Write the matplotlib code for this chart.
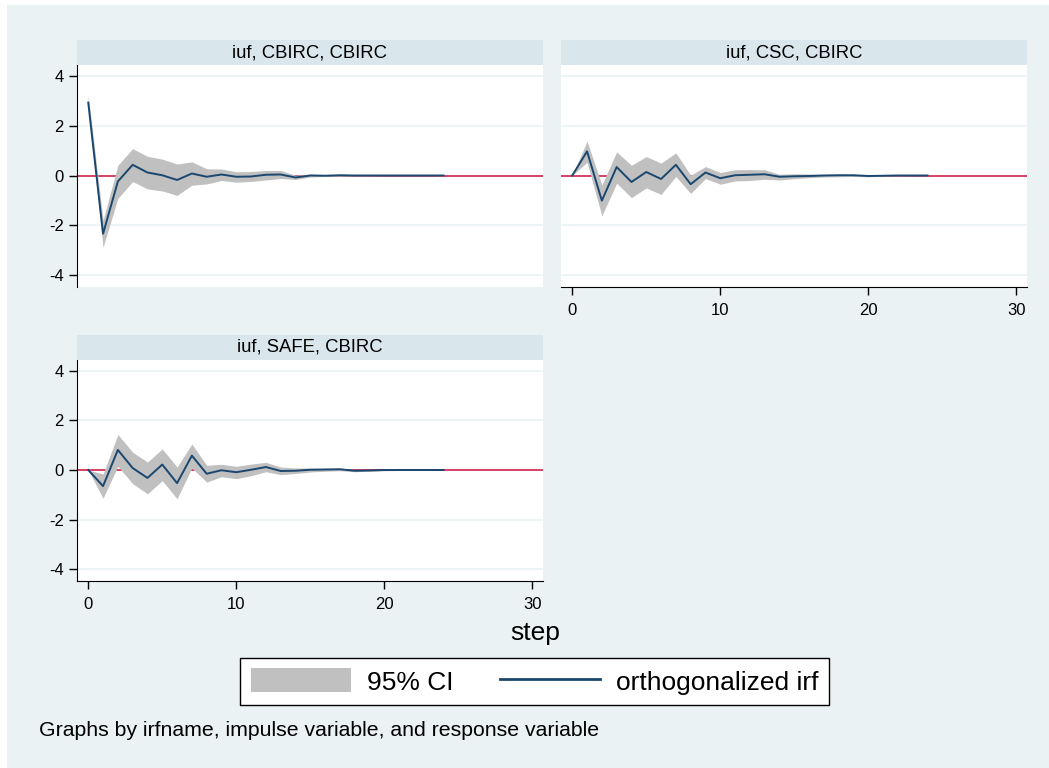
import matplotlib
matplotlib.use("Agg")
import matplotlib.pyplot as plt
from matplotlib.patches import Patch
from matplotlib.lines import Line2D

plt.rcParams['font.family'] = ['Liberation Sans', 'DejaVu Sans']
plt.rcParams['axes.unicode_minus'] = False

# data (orthogonalized irf with 95% CI)
steps = list(range(25))

cbirc_irf = [2.93, -2.34, -0.24, 0.43, 0.12, 0.01, -0.18, 0.08, -0.05, 0.04, -0.05, -0.04, 0.03,
             0.04, -0.08, 0.0, -0.01, 0.01, 0.0, 0.0, 0.0, 0.0, 0.0, 0.0, 0.0]
cbirc_lo = [2.65, -2.88, -0.92, -0.24, -0.54, -0.62, -0.80, -0.39, -0.34, -0.20, -0.27, -0.24, -0.18,
            -0.12, -0.16, -0.06, -0.04, -0.03, -0.02, -0.02, -0.01, -0.01, -0.01, -0.01, -0.01]
cbirc_hi = [3.23, -1.80, 0.41, 1.08, 0.77, 0.66, 0.46, 0.55, 0.27, 0.26, 0.15, 0.16, 0.20,
            0.20, 0.01, 0.06, 0.04, 0.04, 0.02, 0.02, 0.01, 0.01, 0.01, 0.01, 0.01]

csc_irf = [0.0, 0.97, -1.01, 0.34, -0.26, 0.14, -0.14, 0.43, -0.35, 0.12, -0.11, 0.01, 0.03,
           0.05, -0.05, -0.03, -0.02, 0.0, 0.01, 0.01, -0.02, -0.01, 0.0, 0.0, 0.0]
csc_lo = [0.0, 0.53, -1.62, -0.31, -0.89, -0.50, -0.76, -0.04, -0.72, -0.12, -0.35, -0.22, -0.20,
          -0.15, -0.18, -0.13, -0.09, -0.06, -0.05, -0.04, -0.05, -0.03, -0.02, -0.01, -0.01]
csc_hi = [0.0, 1.38, -0.38, 0.95, 0.41, 0.76, 0.50, 0.91, 0.01, 0.36, 0.12, 0.23, 0.24,
          0.23, 0.05, 0.07, 0.06, 0.05, 0.05, 0.04, 0.02, 0.02, 0.01, 0.01, 0.01]

safe_irf = [0.0, -0.65, 0.81, 0.08, -0.32, 0.22, -0.53, 0.58, -0.15, -0.01, -0.09, 0.01, 0.12,
            -0.04, -0.03, 0.01, 0.02, 0.03, -0.03, -0.02, 0.0, 0.0, 0.0, 0.0, 0.0]
safe_lo = [0.0, -1.14, 0.15, -0.55, -0.96, -0.43, -1.16, 0.08, -0.49, -0.27, -0.35, -0.23, -0.07,
           -0.19, -0.14, -0.08, -0.05, -0.03, -0.07, -0.05, -0.03, -0.02, -0.02, -0.01, -0.01]
safe_hi = [0.0, -0.16, 1.43, 0.72, 0.32, 0.85, 0.12, 1.05, 0.19, 0.23, 0.15, 0.24, 0.31,
           0.12, 0.08, 0.08, 0.07, 0.07, 0.02, 0.02, 0.03, 0.02, 0.02, 0.01, 0.01]

panel_titles = ['iuf, CBIRC, CBIRC', 'iuf, CSC, CBIRC', 'iuf, SAFE, CBIRC']
yticks = [-4, -2, 0, 2, 4]
xticks = [0, 10, 20, 30]

# colours (Stata s2color look)
BG = '#EAF2F3'
STRIP = '#D9E6EB'
CI_GREY = '#C0C0C0'
NAVY = '#1A476F'
ZERO_RED = '#D7335A'

W, H = 1049, 768
fig = plt.figure(figsize=(W / 100, H / 100), dpi=100, facecolor='white')
# light background with a thin white margin at left/top
fig.patches.append(plt.Rectangle((7 / W, 0), 1 - 7 / W, 1 - 5 / H, transform=fig.transFigure,
                                 facecolor=BG, edgecolor='none', zorder=-10))

# panel boxes in pixels: (left, top, right, bottom)
boxes = [(77, 65, 543, 287), (561, 65, 1027, 287), (77, 360, 543, 581)]
series = [(cbirc_irf, cbirc_lo, cbirc_hi), (csc_irf, csc_lo, csc_hi), (safe_irf, safe_lo, safe_hi)]

for i, (box, (irf, lo, hi), title) in enumerate(zip(boxes, series, panel_titles)):
    l, t, r, b = box
    ax = fig.add_axes([l / W, 1 - b / H, (r - l) / W, (b - t) / H])
    ax.set_facecolor('white')
    ax.set_xlim(-0.76, 30.72)
    ax.set_ylim(-4.48, 4.44)

    ax.set_yticks(yticks)
    ax.set_xticks(xticks)
    ax.yaxis.grid(True, color=BG, linewidth=1.2)
    ax.set_axisbelow(True)

    ax.axhline(0, color=ZERO_RED, linewidth=1.3, zorder=1)
    ax.fill_between(steps, lo, hi, color=CI_GREY, linewidth=0, zorder=2)
    ax.plot(steps, irf, color=NAVY, linewidth=1.4, zorder=3)

    for side in ['top', 'right']:
        ax.spines[side].set_visible(False)
    ax.tick_params(direction='out', length=6, width=1, labelsize=12, color='black')
    ax.tick_params(axis='y', pad=3.5)
    ax.tick_params(axis='x', pad=5.5)

    if i == 0:
        ax.spines['bottom'].set_visible(False)
        ax.tick_params(axis='x', bottom=False, labelbottom=False)
    if i == 1:
        ax.spines['left'].set_visible(False)
        ax.tick_params(axis='y', left=False, labelleft=False)

    # strip label above the panel
    sax = fig.add_axes([l / W, 1 - t / H, (r - l) / W, 25 / H])
    sax.set_facecolor(STRIP)
    sax.set_xticks([])
    sax.set_yticks([])
    for sp in sax.spines.values():
        sp.set_visible(False)
    sax.text(0.5, 0.5, title, ha='center', va='center', fontsize=13.3, transform=sax.transAxes)

fig.text(535 / W, 1 - 633 / H, 'step', ha='center', va='center', fontsize=19)

handles = [Patch(facecolor=CI_GREY, edgecolor='none'),
           Line2D([], [], color=NAVY, linewidth=2)]
leg = fig.legend(handles, ['95% CI', 'orthogonalized irf'], loc='center',
                 bbox_to_anchor=(534.5 / W, 1 - 681.5 / H), ncol=2, fontsize=19,
                 frameon=True, fancybox=False, edgecolor='black', framealpha=1,
                 handlelength=3.8, handleheight=1.02, handletextpad=0.6,
                 columnspacing=1.75, borderpad=0.4, borderaxespad=0)
leg.get_frame().set_linewidth(1)

fig.text(39 / W, 1 - 730 / H, 'Graphs by irfname, impulse variable, and response variable',
         ha='left', va='center', fontsize=15.3)

fig.savefig('out.png', dpi=100, facecolor=fig.get_facecolor())
